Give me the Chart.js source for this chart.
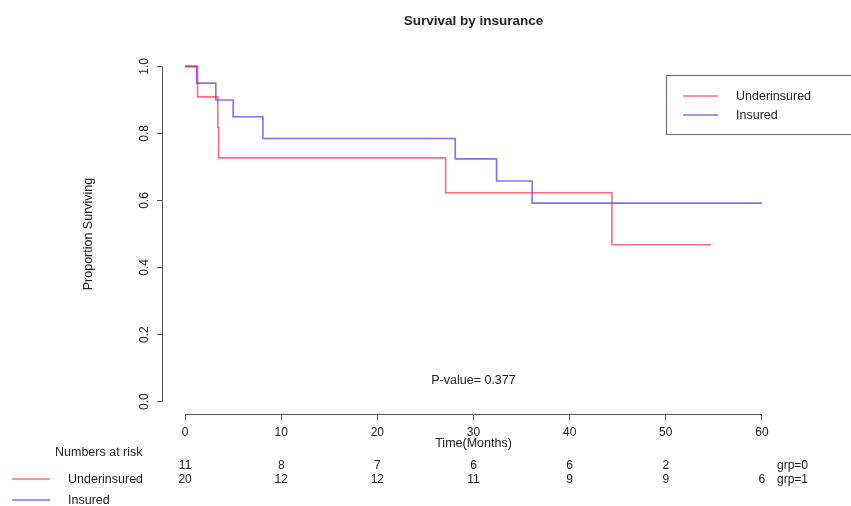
<!DOCTYPE html>
<html>
<head>
<meta charset="utf-8">
<script src="https://cdn.jsdelivr.net/npm/chart.js@4.4.1/dist/chart.umd.min.js"></script>
<style>
  html, body { margin: 0; padding: 0; background: #fff; }
  #wrap { width: 851px; height: 506px; }
</style>
</head>
<body>
<div id="wrap"><canvas id="kmChart" width="851" height="506"></canvas></div>
<script>
// survival curves (time in months, proportion surviving)
const underTimes = [0, 1.3, 3.4, 3.5, 27.1, 44.4, 54.7];
const underSurv  = [1, 0.909, 0.818, 0.727, 0.623, 0.468, 0.468];
const insTimes   = [0, 1.2, 3.2, 5.0, 8.1, 28.1, 32.4, 36.1, 60];
const insSurv    = [1, 0.95, 0.90, 0.85, 0.785, 0.724, 0.658, 0.592, 0.592];

// numbers at risk
const riskTimes = [0, 10, 20, 30, 40, 50, 60];
const riskUnder = [11, 8, 7, 6, 6, 2, null];
const riskIns   = [20, 12, 12, 11, 9, 9, 6];

const xTicks = [0, 10, 20, 30, 40, 50, 60];
const yTicks = [0, 0.2, 0.4, 0.6, 0.8, 1.0];
const groupNames = ['Underinsured', 'Insured'];
const groupCodes = ['grp=0', 'grp=1'];
const pValue = 0.377;

const RED = 'rgba(255, 20, 50, 0.62)';
const BLUE = 'rgba(70, 40, 255, 0.68)';
const FONT = '"Liberation Sans", Arial, Helvetica, sans-serif';
const INK = '#222';

function toPoints(xs, ys) {
  return xs.map((x, i) => ({ x: x, y: ys[i] }));
}

// axis lines, title, legends, p-value and risk table
const extras = {
  id: 'extras',
  afterDraw(chart) {
    const c = chart.ctx;
    const xs = chart.scales.x;
    const ys = chart.scales.y;
    const area = chart.chartArea;
    c.save();

    // R-style axis lines, only over the tick range
    c.strokeStyle = '#555';
    c.lineWidth = 1;
    c.beginPath();
    c.moveTo(xs.getPixelForValue(xTicks[0]), area.bottom - 0.5);
    c.lineTo(xs.getPixelForValue(xTicks[xTicks.length - 1]), area.bottom - 0.5);
    c.moveTo(area.left + 0.5, ys.getPixelForValue(yTicks[0]));
    c.lineTo(area.left + 0.5, ys.getPixelForValue(yTicks[yTicks.length - 1]));
    c.stroke();

    const mid = (xs.getPixelForValue(0) + xs.getPixelForValue(60)) / 2;

    c.fillStyle = INK;
    c.textBaseline = 'middle';
    c.textAlign = 'center';
    c.font = 'bold 13.5px ' + FONT;
    c.fillText('Survival by insurance', mid, 21);

    c.font = '12.5px ' + FONT;
    c.fillText('P-value= ' + pValue, mid, 381);

    // numbers at risk
    c.textAlign = 'left';
    c.fillText('Numbers at risk', 55, 453);
    c.font = '12px ' + FONT;
    c.textAlign = 'center';
    riskTimes.forEach((t, i) => {
      const px = xs.getPixelForValue(t);
      if (riskUnder[i] !== null) c.fillText(String(riskUnder[i]), px, 466);
      if (riskIns[i] !== null) c.fillText(String(riskIns[i]), px, 480);
    });
    c.textAlign = 'left';
    c.fillText(groupCodes[0], 777, 466);
    c.fillText(groupCodes[1], 777, 480);

    // bottom-left legend
    c.font = '12.5px ' + FONT;
    c.lineWidth = 1.5;
    c.strokeStyle = RED;
    c.beginPath(); c.moveTo(12, 479); c.lineTo(50, 479); c.stroke();
    c.strokeStyle = BLUE;
    c.beginPath(); c.moveTo(12, 500); c.lineTo(50, 500); c.stroke();
    c.fillText(groupNames[0], 68, 480);
    c.fillText(groupNames[1], 68, 501);

    // top-right legend box
    c.strokeStyle = '#777';
    c.lineWidth = 1.2;
    c.strokeRect(666.5, 75.5, 200, 59);
    c.lineWidth = 1.5;
    c.strokeStyle = RED;
    c.beginPath(); c.moveTo(683, 96); c.lineTo(718, 96); c.stroke();
    c.strokeStyle = BLUE;
    c.beginPath(); c.moveTo(683, 115); c.lineTo(718, 115); c.stroke();
    c.fillText(groupNames[0], 736, 97);
    c.fillText(groupNames[1], 736, 116);

    c.restore();
  }
};

const ctx = document.getElementById('kmChart').getContext('2d');
const kmChart = new Chart(ctx, {
  type: 'line',
  data: {
    datasets: [
      {
        label: groupNames[0],
        data: toPoints(underTimes, underSurv),
        stepped: true,
        borderColor: RED,
        backgroundColor: RED,
        borderWidth: 1.6,
        pointRadius: 0,
        fill: false
      },
      {
        label: groupNames[1],
        data: toPoints(insTimes, insSurv),
        stepped: true,
        borderColor: BLUE,
        backgroundColor: BLUE,
        borderWidth: 1.6,
        pointRadius: 0,
        fill: false
      }
    ]
  },
  options: {
    responsive: false,
    animation: false,
    layout: { padding: { left: 0, right: 66, top: 53, bottom: 0 } },
    plugins: {
      legend: { display: false },
      title: { display: false },
      tooltip: { enabled: false }
    },
    scales: {
      x: {
        type: 'linear',
        min: -2.4,
        max: 62.4,
        afterBuildTicks: (s) => { s.ticks = xTicks.map(v => ({ value: v })); },
        afterFit: (s) => { s.height = 91; },
        border: { display: false },
        grid: { drawOnChartArea: false, drawTicks: true, tickLength: 5, color: '#555' },
        ticks: {
          padding: 5,
          maxRotation: 0,
          color: INK,
          font: { family: FONT, size: 12 },
          callback: (v) => String(v)
        },
        title: {
          display: true,
          text: 'Time(Months)',
          color: INK,
          font: { family: FONT, size: 12.5 },
          padding: { top: 0, bottom: 55 }
        }
      },
      y: {
        type: 'linear',
        min: -0.04,
        max: 1.04,
        afterBuildTicks: (s) => { s.ticks = yTicks.map(v => ({ value: v })); },
        afterFit: (s) => { s.width = 162; },
        border: { display: false },
        grid: { drawOnChartArea: false, drawTicks: true, tickLength: 5, color: '#555' },
        ticks: {
          padding: 4,
          minRotation: 90,
          maxRotation: 90,
          crossAlign: 'center',
          color: INK,
          font: { family: FONT, size: 12 },
          callback: (v) => v.toFixed(1)
        },
        title: {
          display: true,
          text: 'Proportion Surviving',
          color: INK,
          font: { family: FONT, size: 12.5 },
          padding: { top: 81, bottom: 0 }
        }
      }
    }
  },
  plugins: [extras]
});
</script>
</body>
</html>
